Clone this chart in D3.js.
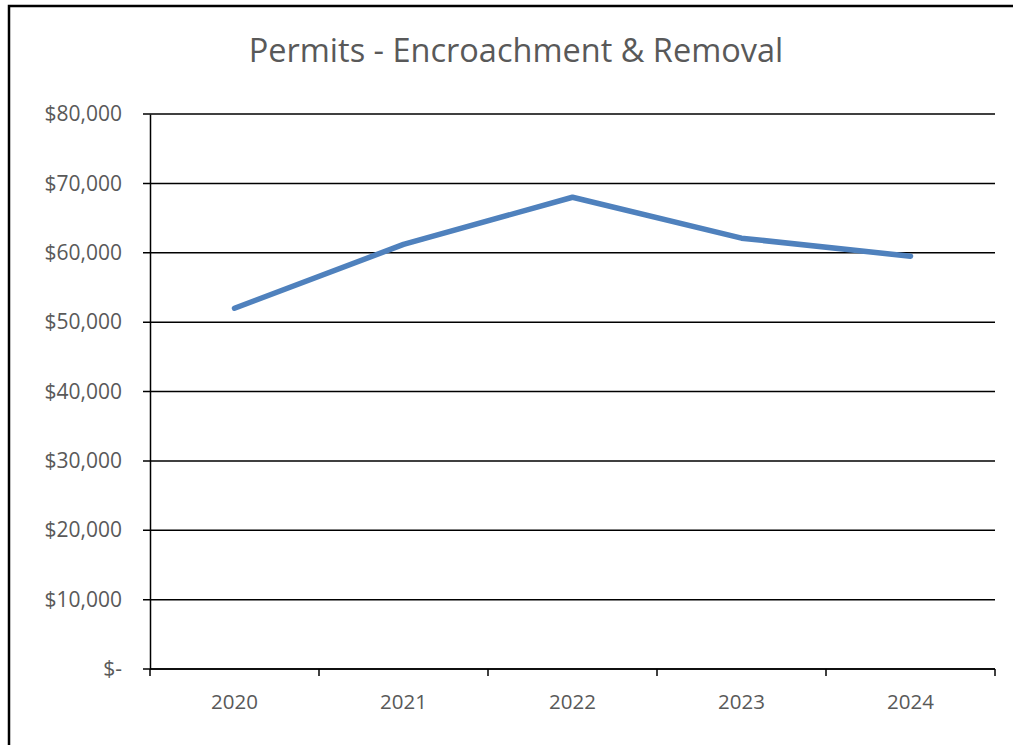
<!DOCTYPE html>
<html>
<head>
<meta charset="utf-8">
<script src="https://cdn.jsdelivr.net/npm/d3@7"></script>
<style>
  body { margin: 0; background: #fff; }
  text { font-family: "Open Sans", "Noto Sans", sans-serif; fill: #595959; }
</style>
</head>
<body>
<div id="chart"></div>
<script>
// chart data
var years = ["2020", "2021", "2022", "2023", "2024"];
var permits = [52000, 61200, 68000, 62100, 59500];
var yTicks = [0, 10000, 20000, 30000, 40000, 50000, 60000, 70000, 80000];

var width = 1013, height = 745;
var margin = { top: 114, right: 18, bottom: 76, left: 150 };
var innerW = width - margin.left - margin.right,
    innerH = height - margin.top - margin.bottom;

var svg = d3.select("#chart").append("svg")
    .attr("width", width)
    .attr("height", height);

// outer frame (top + left edges visible)
svg.append("path")
    .attr("d", "M9,745 L9,6 L1013,6")
    .attr("fill", "none")
    .attr("stroke", "#000")
    .attr("stroke-width", 2.5);

svg.append("text")
    .attr("x", 516)
    .attr("y", 49)
    .attr("text-anchor", "middle")
    .attr("dominant-baseline", "central")
    .style("font-size", "32.5px")
    .text("Permits - Encroachment & Removal");

var g = svg.append("g")
    .attr("transform", "translate(" + margin.left + "," + margin.top + ")");

var x = d3.scaleBand().domain(years).range([0, innerW]);
var y = d3.scaleLinear().domain([0, 80000]).range([innerH, 0]);

// gridlines
g.append("g")
    .selectAll("line")
    .data(yTicks)
    .join("line")
    .attr("x1", -7)
    .attr("x2", innerW)
    .attr("y1", function (d) { return y(d); })
    .attr("y2", function (d) { return y(d); })
    .attr("stroke", "#000")
    .attr("stroke-width", 1.5);

// y axis
var yAxis = g.append("g")
    .call(d3.axisLeft(y).tickValues(yTicks).tickSize(0).tickPadding(28)
        .tickFormat(function (d) { return d === 0 ? "$-" : "$" + d3.format(",")(d); }));
yAxis.select(".domain").attr("stroke", "#000").attr("stroke-width", 1.5);
yAxis.selectAll("text").style("font-size", "21px").attr("fill", "#595959");

// x axis with ticks between categories
var xAxis = g.append("g")
    .attr("transform", "translate(0," + innerH + ")");
xAxis.append("line")
    .attr("x1", 0).attr("x2", innerW)
    .attr("stroke", "#000").attr("stroke-width", 1.5);
var bounds = years.map(function (d) { return x(d); }).concat([innerW]);
xAxis.selectAll("line.tick")
    .data(bounds)
    .join("line")
    .attr("class", "tick")
    .attr("x1", function (d) { return d; })
    .attr("x2", function (d) { return d; })
    .attr("y1", 0).attr("y2", 7)
    .attr("stroke", "#000").attr("stroke-width", 1.5);
xAxis.selectAll("text")
    .data(years)
    .join("text")
    .attr("x", function (d) { return x(d) + x.bandwidth() / 2; })
    .attr("y", 32)
    .attr("text-anchor", "middle")
    .attr("dominant-baseline", "central")
    .style("font-size", "20.5px")
    .text(function (d) { return d; });

// series line
var line = d3.line()
    .x(function (d, i) { return x(years[i]) + x.bandwidth() / 2; })
    .y(function (d) { return y(d); });

g.append("path")
    .datum(permits)
    .attr("fill", "none")
    .attr("stroke", "#4F81BD")
    .attr("stroke-width", 5.5)
    .attr("stroke-linecap", "round")
    .attr("stroke-linejoin", "round")
    .attr("d", line);
</script>
</body>
</html>
